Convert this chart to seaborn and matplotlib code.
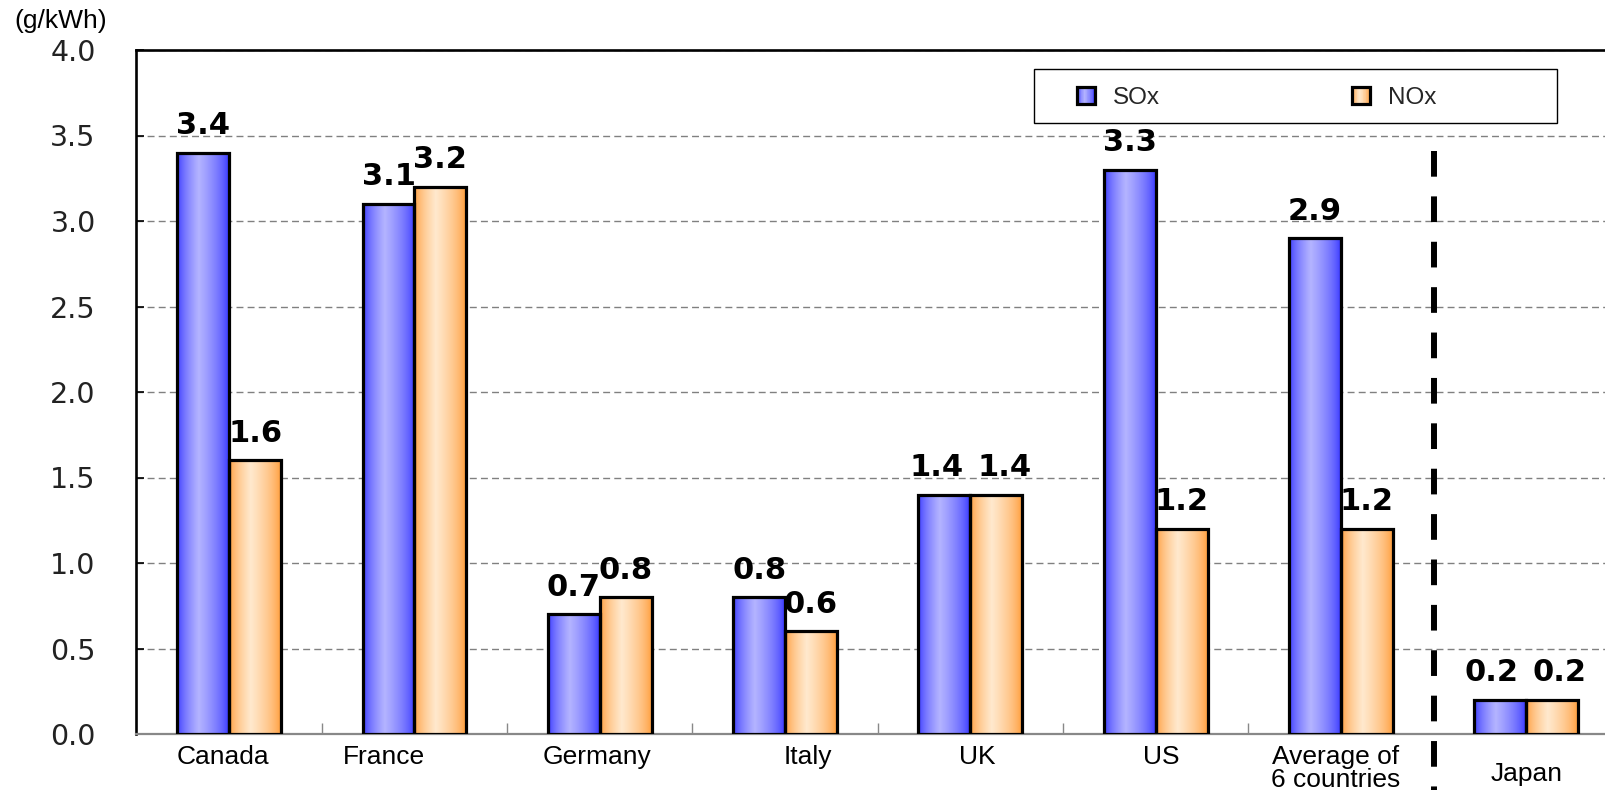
import numpy as np
import pandas as pd
import matplotlib
matplotlib.use("Agg")
import matplotlib.pyplot as plt
import matplotlib.transforms as mtransforms
from matplotlib.patches import Rectangle
from matplotlib.legend_handler import HandlerBase
import seaborn as sns

# ---------------- data ----------------
countries = ["Canada", "France", "Germany", "Italy", "UK", "US",
             "Average of\n6 countries", "Japan"]
sox = [3.4, 3.1, 0.7, 0.8, 1.4, 3.3, 2.9, 0.2]
nox = [1.6, 3.2, 0.8, 0.6, 1.4, 1.2, 1.2, 0.2]
series = ["SOx", "NOx"]
yticks = [0.0, 0.5, 1.0, 1.5, 2.0, 2.5, 3.0, 3.5, 4.0]
unit_label = "(g/kWh)"

df = pd.DataFrame({
    "country": countries * 2,
    "gas": [series[0]] * len(countries) + [series[1]] * len(countries),
    "value": sox + nox,
})

# ---------------- style ----------------
sns.set_theme(style="white")
plt.rcParams["font.family"] = ["Liberation Sans", "DejaVu Sans"]

blue_dark = np.array([45, 45, 255]) / 255
blue_light = np.array([180, 180, 255]) / 255
orange_dark = np.array([255, 150, 45]) / 255
orange_light = np.array([255, 233, 206]) / 255


def gradient(dark, light, n=256, peak=0.42):
    t = np.linspace(0, 1, n)
    f = np.where(t < peak, t / peak, (1 - t) / (1 - peak))
    f = f ** 0.6
    cols = dark[None, :] + (light - dark)[None, :] * f[:, None]
    return cols[None, :, :]


fig = plt.figure(figsize=(16.05, 7.9), dpi=100)
W, H = 1605, 790
ax = fig.add_axes([136 / W, 56 / H, 1469 / W, 684 / H])

sns.barplot(data=df, x="country", y="value", hue="gas", order=countries,
            hue_order=series, width=0.56, palette=["#8080ff", "#ffc080"],
            saturation=1, edgecolor="black", linewidth=2.3, legend=False,
            ax=ax, zorder=3)

# label nudges (points) for neighbouring labels that would touch
label_nudge = {("SOx", "UK"): -6, ("NOx", "UK"): 6,
               ("SOx", "Japan"): -6.5, ("NOx", "Japan"): 5}

grads = [(blue_dark, blue_light), (orange_dark, orange_light)]
for gas, container, (dk, lt) in zip(series, ax.containers, grads):
    for p in container.patches:
        x, y = p.get_xy()
        w, h = p.get_width(), p.get_height()
        ax.imshow(gradient(dk, lt), extent=[x, x + w, y, y + h], aspect="auto",
                  zorder=2.9, interpolation="bilinear")
        p.set_facecolor("none")
    texts = ax.bar_label(container, fmt="%.1f", padding=9, fontsize=22,
                         fontweight="bold", family="DejaVu Sans",
                         color="black", zorder=6)
    for t, c in zip(texts, countries):
        dx = label_nudge.get((gas, c), 0)
        if dx:
            ox, oy = t.xyann
            t.xyann = (ox + dx, oy)

ax.set_xlim(-0.503, 7.425)
ax.set_ylim(0, 4.0)
ax.set_xlabel("")
ax.set_ylabel("")

# y axis
ax.set_yticks(yticks)
ax.set_yticklabels([f"{v:.1f}" for v in yticks], family="DejaVu Sans",
                   fontsize=20.5, color="#222222")
ax.tick_params(axis="y", direction="in", length=6, width=1.2, color="black",
               pad=29, left=True)
ax.yaxis.grid(True, color="#808080", linestyle=(0, (5, 3)), linewidth=1)
ax.xaxis.grid(False)
ax.set_axisbelow(True)

# x axis
ax.set_xticks(range(len(countries)))
ax.set_xticklabels(countries, fontsize=19, linespacing=0.95, color="black")
ax.tick_params(axis="x", which="major", length=0, pad=8)
ax.set_xticks([i + 0.5 for i in range(len(countries) - 2)], minor=True)
ax.tick_params(axis="x", which="minor", direction="in", length=8,
               width=1, color="#888888", bottom=True)

label_dx = [-6, -31, -3, 23, 7, 6, -5, 0]
label_dy = [0, 0, 0, 0, 0, 0, 0, -17]
for lab, dx, dy in zip(ax.get_xticklabels(), label_dx, label_dy):
    off = mtransforms.ScaledTranslation(dx / 100, dy / 100, fig.dpi_scale_trans)
    lab.set_transform(lab.get_transform() + off)

for s in ["top", "left"]:
    ax.spines[s].set_color("black")
    ax.spines[s].set_linewidth(1.9)
ax.spines["bottom"].set_color("#888888")
ax.spines["bottom"].set_linewidth(1.6)
ax.spines["right"].set_visible(False)

# separator before Japan
sep_x = len(countries) - 1.5
ax.plot([sep_x, sep_x], [3.41, -0.34], color="black", lw=4.3,
        linestyle=(0, (4.3, 3.3)), dash_capstyle="butt", clip_on=False,
        zorder=5)

# unit label
fig.text(14 / W, 1 - 9 / H, unit_label, fontsize=19, va="top", ha="left",
         color="black")


# legend
class GradHandler(HandlerBase):
    def __init__(self, dark, light):
        super().__init__()
        self.dark, self.light = dark, light

    def create_artists(self, legend, orig_handle, xdescent, ydescent, width,
                       height, fontsize, trans):
        s = min(width, height)
        x0 = -xdescent
        y0 = -ydescent + (height - s) / 2
        n = 24
        cols = gradient(self.dark, self.light, n=n)[0]
        arts = []
        for i in range(n):
            arts.append(Rectangle((x0 + i * s / n, y0), s / n * 1.05, s,
                                  facecolor=cols[i], edgecolor="none",
                                  transform=trans))
        arts.append(Rectangle((x0, y0), s, s, facecolor="none",
                              edgecolor="black", lw=2.3, transform=trans))
        return arts


h1 = Rectangle((0, 0), 1, 1)
h2 = Rectangle((0, 0), 1, 1)
ax.add_patch(Rectangle((0.611, 0.893), 0.356, 0.079, transform=ax.transAxes,
                       facecolor="white", edgecolor="black", lw=1, zorder=7,
                       clip_on=False))
leg = ax.legend([h1, h2], series,
                handler_map={h1: GradHandler(blue_dark, blue_light),
                             h2: GradHandler(orange_dark, orange_light)},
                loc="center left", bbox_to_anchor=(0.6406, 0.930),
                frameon=False, ncol=2, fontsize=17.5, handlelength=0.75,
                handleheight=0.75, handletextpad=0.74, columnspacing=7.9,
                borderpad=0, borderaxespad=0)
leg.set_zorder(8)

fig.savefig("out.png", dpi=100)
